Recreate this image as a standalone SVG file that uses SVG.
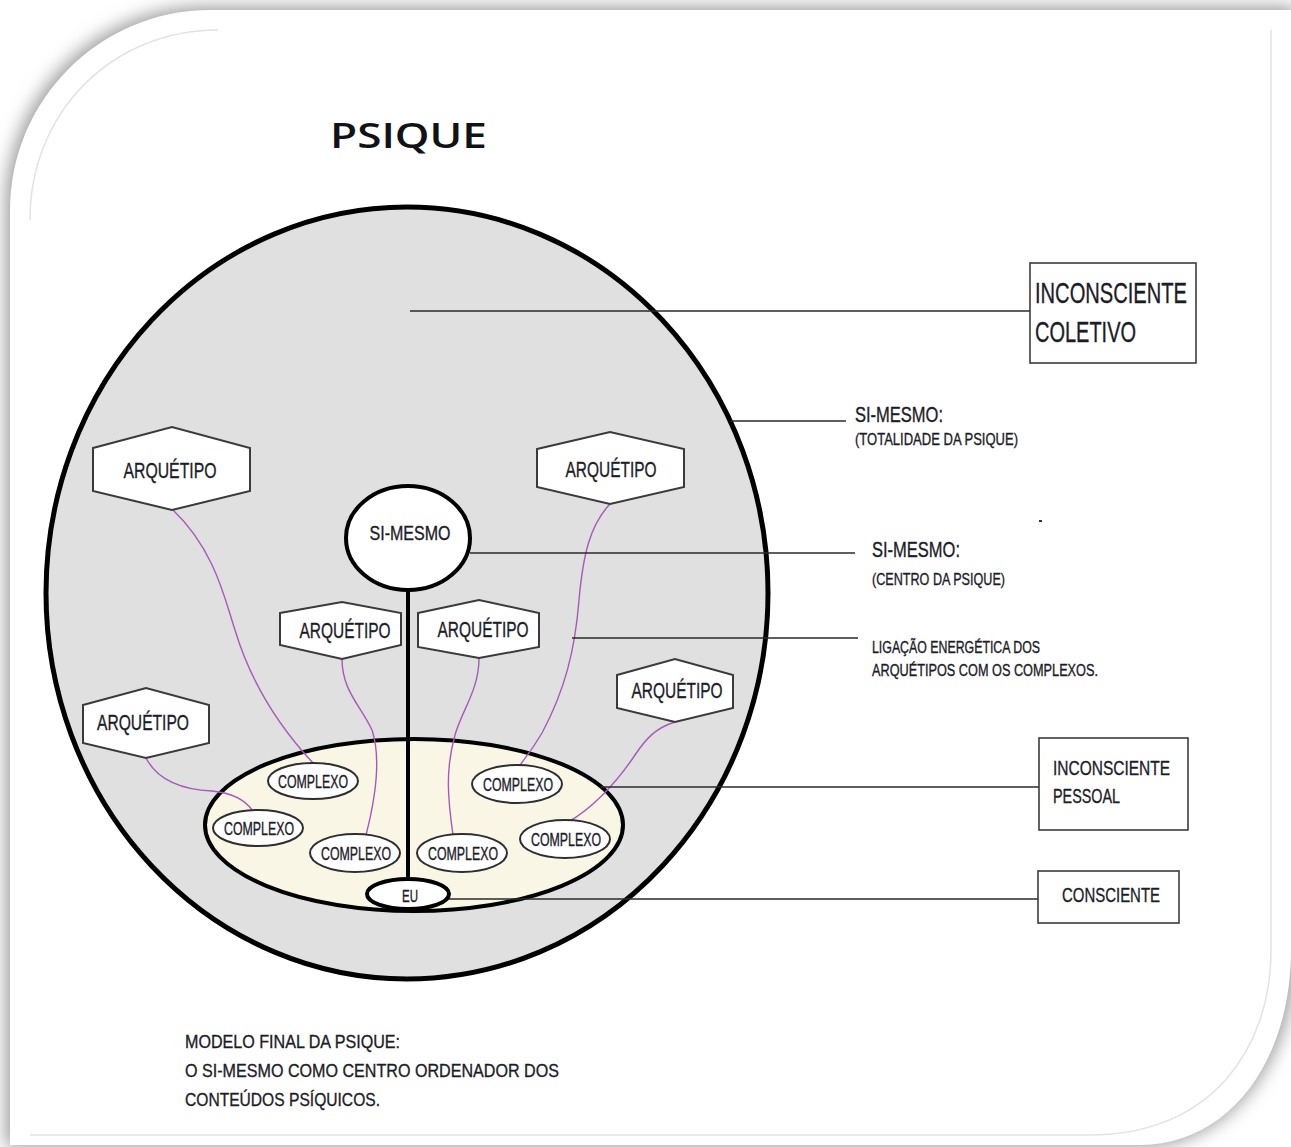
<svg xmlns="http://www.w3.org/2000/svg" width="1291" height="1147" viewBox="0 0 1291 1147">
<defs>
<filter id="shadow" x="-10%" y="-10%" width="120%" height="120%">
<feGaussianBlur stdDeviation="9"/>
</filter>
<style>
.t{font-family:"Liberation Sans",Arial,sans-serif;fill:#1c1c28;stroke:#1c1c28;stroke-width:0.35;}
.hex{fill:#ffffff;stroke:#3a3a3a;stroke-width:2;}
.cx{fill:#ffffff;stroke:#2e2e2e;stroke-width:2;}
.pl{fill:none;stroke:#a65ab8;stroke-width:1.4;}
.ln{fill:none;stroke:#2a2a2a;stroke-width:1.6;}
.box{fill:#ffffff;stroke:#3c3c3c;stroke-width:1.6;}
.deco{fill:none;stroke:#e2e2e2;stroke-width:1.5;}
</style>
</defs>
<rect width="1291" height="1147" fill="#ffffff"/>
<path d="M10,210 C10,100 100,10 210,10 H1300 V950 C1300,1060 1235,1150 1140,1150 H10 Z" fill="#9a9a9a" filter="url(#shadow)" transform="translate(-4,-3)"/>
<path d="M10,210 C10,100 100,10 210,10 H1291 V950 C1291,1060 1230,1145 1140,1145 H10 Z" fill="#ffffff"/>
<path class="deco" d="M30,220 C30,112 112,30 218,30"/>
<path class="deco" d="M1271,30 V950 C1271,1050 1210,1135 1090,1135 H30"/>

<text x="330" y="148" style="font-family:'Open Sans',sans-serif;font-weight:600;fill:#111118" font-size="35" textLength="157" lengthAdjust="spacingAndGlyphs">PSIQUE</text>

<g id="inconsciente-coletivo-area">
<ellipse cx="407" cy="593" rx="361" ry="386" fill="#e0e0e0" stroke="#000000" stroke-width="5"/>
</g>
<g id="inconsciente-pessoal-area">
<ellipse cx="414" cy="825" rx="209" ry="86" fill="#faf6e6" stroke="#000000" stroke-width="4"/>
</g>

<g id="connectors">
<line x1="408" y1="590" x2="408" y2="880" stroke="#000" stroke-width="4"/>
<path class="pl" d="M173,510 C215,550 225,600 235,630 C250,680 275,722 313,763"/>
<path class="pl" d="M342,659 C342,690 360,705 372,730 C382,760 375,800 366,835"/>
<path class="pl" d="M146,758 C160,785 190,790 212,791 C232,793 245,800 252,810"/>
<path class="pl" d="M479,658 C479,690 462,710 455,735 C445,770 448,800 453,835"/>
<path class="pl" d="M610,504 C590,525 583,555 579,600 C575,650 565,690 542,733 C532,750 526,757 520,765"/>
<path class="pl" d="M675,722 C655,728 645,740 635,755 C615,785 590,810 568,822"/>
<line class="ln" x1="410" y1="311" x2="1030" y2="311"/>
<line class="ln" x1="731" y1="421" x2="846" y2="421"/>
<line class="ln" x1="470" y1="553" x2="855" y2="553"/>
<line class="ln" x1="572" y1="638" x2="858" y2="638"/>
<line class="ln" x1="601" y1="787" x2="1039" y2="787"/>
<line class="ln" x1="430" y1="899" x2="1038" y2="899"/>
</g>

<g id="si-mesmo">
<ellipse cx="408" cy="538" rx="62" ry="52" fill="#ffffff" stroke="#000000" stroke-width="4"/>
<text class="t" x="410" y="540" font-size="20" text-anchor="middle" textLength="81" lengthAdjust="spacingAndGlyphs">SI-MESMO</text>
</g>

<g id="arquetipo-1">
<polygon class="hex" points="93,448 172,427 250,448 250,491 172,510 93,491"/>
<text class="t" x="170" y="478" font-size="22" text-anchor="middle" textLength="93" lengthAdjust="spacingAndGlyphs">ARQUÉTIPO</text>
</g>
<g id="arquetipo-2">
<polygon class="hex" points="537,449 610,432 684,449 684,487 610,504 537,487"/>
<text class="t" x="611" y="477" font-size="22" text-anchor="middle" textLength="91" lengthAdjust="spacingAndGlyphs">ARQUÉTIPO</text>
</g>
<g id="arquetipo-3">
<polygon class="hex" points="280,613 342,602 401,613 401,645 342,659 280,645"/>
<text class="t" x="345" y="638" font-size="22" text-anchor="middle" textLength="91" lengthAdjust="spacingAndGlyphs">ARQUÉTIPO</text>
</g>
<g id="arquetipo-4">
<polygon class="hex" points="418,613 479,600 539,613 539,647 479,658 418,647"/>
<text class="t" x="483" y="637" font-size="22" text-anchor="middle" textLength="91" lengthAdjust="spacingAndGlyphs">ARQUÉTIPO</text>
</g>
<g id="arquetipo-5">
<polygon class="hex" points="617,675 675,659 733,675 733,708 675,722 617,708"/>
<text class="t" x="677" y="698" font-size="22" text-anchor="middle" textLength="91" lengthAdjust="spacingAndGlyphs">ARQUÉTIPO</text>
</g>
<g id="arquetipo-6">
<polygon class="hex" points="83,705 146,688 209,705 209,743 146,758 83,743"/>
<text class="t" x="143" y="730" font-size="22" text-anchor="middle" textLength="92" lengthAdjust="spacingAndGlyphs">ARQUÉTIPO</text>
</g>

<g id="complexo-1">
<ellipse class="cx" cx="313" cy="781" rx="45" ry="18"/>
<text class="t" x="313" y="788" font-size="17.5" text-anchor="middle" textLength="70" lengthAdjust="spacingAndGlyphs">COMPLEXO</text>
</g>
<g id="complexo-2">
<ellipse class="cx" cx="258" cy="828" rx="45" ry="18"/>
<text class="t" x="259" y="835" font-size="17.5" text-anchor="middle" textLength="70" lengthAdjust="spacingAndGlyphs">COMPLEXO</text>
</g>
<g id="complexo-3">
<ellipse class="cx" cx="355" cy="853" rx="45" ry="19"/>
<text class="t" x="356" y="860" font-size="17.5" text-anchor="middle" textLength="70" lengthAdjust="spacingAndGlyphs">COMPLEXO</text>
</g>
<g id="complexo-4">
<ellipse class="cx" cx="462" cy="853" rx="45" ry="19"/>
<text class="t" x="463" y="860" font-size="17.5" text-anchor="middle" textLength="70" lengthAdjust="spacingAndGlyphs">COMPLEXO</text>
</g>
<g id="complexo-5">
<ellipse class="cx" cx="517" cy="784" rx="45" ry="19"/>
<text class="t" x="518" y="791" font-size="17.5" text-anchor="middle" textLength="70" lengthAdjust="spacingAndGlyphs">COMPLEXO</text>
</g>
<g id="complexo-6">
<ellipse class="cx" cx="565" cy="839" rx="45" ry="19"/>
<text class="t" x="566" y="846" font-size="17.5" text-anchor="middle" textLength="70" lengthAdjust="spacingAndGlyphs">COMPLEXO</text>
</g>

<g id="eu">
<ellipse cx="408" cy="894" rx="41" ry="15" fill="#ffffff" stroke="#000000" stroke-width="4"/>
<text class="t" x="410" y="902" font-size="17" text-anchor="middle" textLength="16" lengthAdjust="spacingAndGlyphs">EU</text>
</g>

<g id="label-inconsciente-coletivo">
<rect class="box" x="1030" y="263" width="166" height="100"/>
<text class="t" x="1035" y="303" font-size="30" textLength="152" lengthAdjust="spacingAndGlyphs">INCONSCIENTE</text>
<text class="t" x="1035" y="342" font-size="30" textLength="101" lengthAdjust="spacingAndGlyphs">COLETIVO</text>
</g>

<g id="label-si-mesmo-totalidade">
<text class="t" x="855" y="422" font-size="22" textLength="88" lengthAdjust="spacingAndGlyphs">SI-MESMO:</text>
<text class="t" x="855" y="445" font-size="17" textLength="163" lengthAdjust="spacingAndGlyphs">(TOTALIDADE DA PSIQUE)</text>
</g>

<rect x="1039" y="520" width="3" height="2" fill="#333"/>

<g id="label-si-mesmo-centro">
<text class="t" x="872" y="557" font-size="22" textLength="88" lengthAdjust="spacingAndGlyphs">SI-MESMO:</text>
<text class="t" x="872" y="585" font-size="17" textLength="133" lengthAdjust="spacingAndGlyphs">(CENTRO DA PSIQUE)</text>
</g>

<g id="label-ligacao">
<text class="t" x="872" y="653" font-size="16" textLength="168" lengthAdjust="spacingAndGlyphs">LIGAÇÃO ENERGÉTICA DOS</text>
<text class="t" x="872" y="676" font-size="16" textLength="226" lengthAdjust="spacingAndGlyphs">ARQUÉTIPOS COM OS COMPLEXOS.</text>
</g>

<g id="label-inconsciente-pessoal">
<rect class="box" x="1039" y="738" width="149" height="92"/>
<text class="t" x="1053" y="775" font-size="21" textLength="117" lengthAdjust="spacingAndGlyphs">INCONSCIENTE</text>
<text class="t" x="1053" y="803" font-size="21" textLength="67" lengthAdjust="spacingAndGlyphs">PESSOAL</text>
</g>

<g id="label-consciente">
<rect class="box" x="1038" y="871" width="141" height="52"/>
<text class="t" x="1062" y="902" font-size="21" textLength="98" lengthAdjust="spacingAndGlyphs">CONSCIENTE</text>
</g>

<g id="caption">
<text class="t" x="185" y="1048" font-size="19" textLength="215" lengthAdjust="spacingAndGlyphs">MODELO FINAL DA PSIQUE:</text>
<text class="t" x="185" y="1077" font-size="19" textLength="374" lengthAdjust="spacingAndGlyphs">O SI-MESMO COMO CENTRO ORDENADOR DOS</text>
<text class="t" x="185" y="1106" font-size="19" textLength="195" lengthAdjust="spacingAndGlyphs">CONTEÚDOS PSÍQUICOS.</text>
</g>
</svg>
